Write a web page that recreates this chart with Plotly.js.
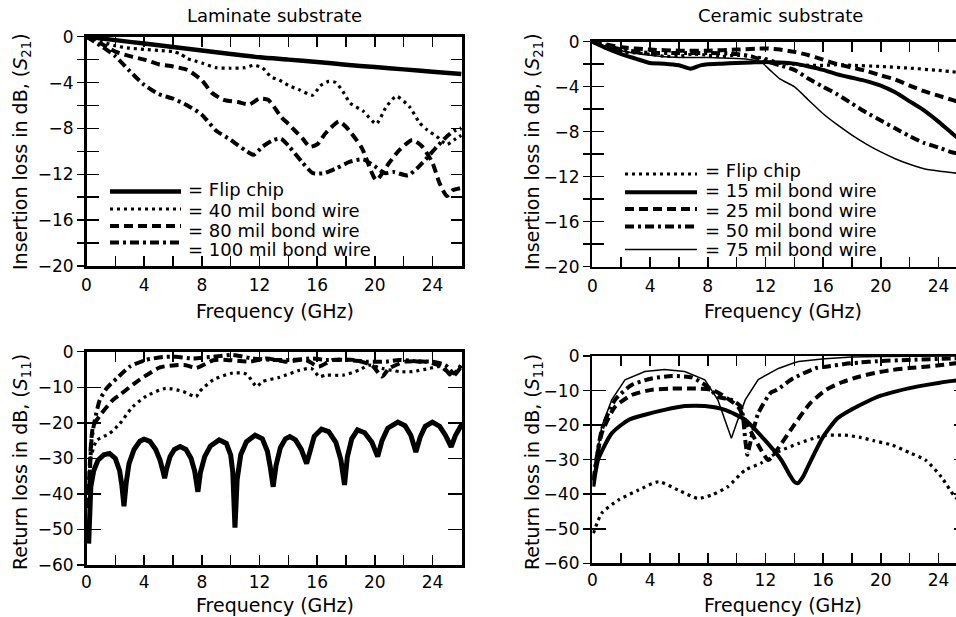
<!DOCTYPE html>
<html>
<head>
<meta charset="utf-8">
<script src="https://cdn.plot.ly/plotly-3.0.1.min.js"></script>
<style>
html, body { margin: 0; padding: 0; overflow: hidden; background: #fff; }
#chart { width: 975px; height: 617px; }
</style>
</head>
<body>
<div id="chart"></div>
<script>
// ---------- Laminate substrate, insertion loss S21 (dB) ----------
const lamFlipX = [0,2,4,6,8,10,12,14,16,18,20,22,24,26];
const lamFlipY = [0,-0.3,-0.6,-0.9,-1.2,-1.5,-1.8,-2.0,-2.2,-2.45,-2.65,-2.85,-3.05,-3.25];
const lam40X = [0,1,2,3,4,5,6,6.5,7,7.5,8,9,10,11,11.6,12.2,12.8,13.4,14.1,14.8,15.7,16.2,16.8,17.3,17.8,18.3,19.2,20.1,20.8,21.5,22.4,23.1,23.6,24.3,25.0,25.5,26];
const lam40Y = [0,-0.4,-0.8,-1.0,-1.1,-1.2,-1.3,-1.5,-1.9,-2.1,-2.3,-2.7,-2.75,-2.7,-2.5,-2.7,-3.5,-3.8,-4.3,-4.65,-5.1,-4.3,-3.9,-4.0,-4.8,-5.8,-6.5,-7.6,-6.1,-5.2,-6.1,-7.5,-8.1,-8.7,-9.4,-9.0,-8.6];
const lam80X = [0,1,2,3,4,5,6,7,8,8.7,9.5,10.5,11.3,12,12.6,13,13.5,14,15,15.5,16,16.6,17.5,18.0,19.1,20.1,21.0,21.7,22.6,23.3,24.0,24.5,25.0,25.4,26];
const lam80Y = [0,-0.6,-1.3,-1.7,-2.0,-2.4,-2.6,-2.9,-3.8,-4.9,-5.5,-5.7,-5.9,-5.4,-5.5,-6.1,-7.0,-7.6,-8.9,-9.6,-9.4,-8.4,-7.4,-7.85,-9.7,-12.5,-11.0,-9.9,-9.0,-9.6,-11.0,-12.8,-13.9,-13.4,-13.2];
const lam100X = [0,1,2,3,4,5,6,7,8,9,10,11,11.6,12.2,13,13.5,14,15,15.7,16.5,17.3,18.3,19.2,20,20.7,21.3,22.3,23,23.6,24.3,25,25.5,26];
const lam100Y = [0,-0.8,-1.7,-3.0,-4.2,-5.0,-5.4,-6.0,-6.8,-8.2,-9.0,-9.9,-10.3,-9.6,-9.0,-8.9,-9.5,-11.0,-11.9,-11.9,-11.5,-10.9,-10.7,-11.3,-11.9,-11.8,-12.1,-11.4,-10.6,-9.6,-8.7,-8.2,-8.0];

// ---------- Ceramic substrate, insertion loss S21 (dB) ----------
const cerFlipX = [0,1,2,3,4,5,6,7,8,9,10,11,12,13,14,15,16,17,18,20,22,24,26];
const cerFlipY = [0,-0.5,-0.9,-1.0,-1.1,-1.3,-1.3,-1.1,-1.2,-1.3,-1.2,-1.3,-1.5,-1.9,-2.0,-2.1,-2.1,-2.05,-2.1,-2.2,-2.35,-2.55,-2.8];
const cer15X = [0,1,2,3,4,5,6,6.8,7.5,8,9,10,11,12,13,14,15,16,17,18,19,20,21,22,23,24,25,26];
const cer15Y = [0,-0.6,-1.1,-1.5,-1.9,-1.95,-2.1,-2.4,-2.1,-2.0,-1.95,-1.9,-1.85,-1.8,-1.85,-1.95,-2.2,-2.5,-2.9,-3.2,-3.5,-3.9,-4.5,-5.3,-6.1,-7.1,-8.2,-9.2];
const cer25X = [0,2,4,6,8,10,12,13,14,15,16,17,18,19,20,21,22,23,24,25,26];
const cer25Y = [0,-0.5,-0.7,-0.8,-0.8,-0.7,-0.6,-0.7,-0.9,-1.2,-1.6,-2.0,-2.3,-2.6,-3.0,-3.35,-3.9,-4.4,-4.8,-5.2,-5.6];
const cer50X = [0,2,4,6,8,10,11,12,13,14,15,16,17,18,19,20,21,22,23,24,25,26];
const cer50Y = [0,-0.7,-1.0,-1.0,-1.0,-1.1,-1.3,-1.7,-2.1,-2.5,-3.3,-4.0,-4.7,-5.5,-6.3,-7.0,-7.7,-8.4,-9.0,-9.4,-9.85,-10.1];
const cer75X = [0,2,4,6,8,10,11,11.7,12.3,13,14,15,16,17,18,19,20,21,22,23,24,25,26];
const cer75Y = [0,-0.8,-1.2,-1.4,-1.4,-1.5,-1.6,-1.8,-2.5,-3.3,-4.0,-5.2,-6.4,-7.4,-8.3,-9.1,-9.8,-10.4,-10.9,-11.3,-11.5,-11.65,-11.8];

// ---------- Laminate substrate, return loss S11 (dB) ----------
const lamS11FlipX = [0.15,0.2,0.3,0.5,0.8,1.2,1.6,2.0,2.3,2.45,2.6,2.75,2.95,3.3,3.7,4.0,4.4,4.8,5.1,5.3,5.42,5.55,5.8,6.1,6.5,6.9,7.25,7.5,7.73,7.9,8.2,8.6,9.2,9.7,10.0,10.15,10.3,10.45,10.7,11.1,11.7,12.2,12.55,12.75,12.95,13.15,13.45,13.8,14.1,14.5,14.9,15.27,15.5,15.8,16.3,16.8,17.3,17.65,17.9,18.1,18.4,18.8,19.3,19.8,20.2,20.5,20.9,21.6,22.1,22.5,22.85,23.15,23.5,24.0,24.5,24.9,25.3,25.6,26.05];
const lamS11FlipY = [-54,-44,-38,-33.5,-30.5,-29,-28.6,-30,-33.5,-37.5,-43.5,-37,-31.5,-27.5,-25.2,-24.6,-25.2,-27.5,-30.5,-33.5,-35.6,-33,-29.5,-27.5,-26.7,-27.5,-30,-33.5,-39.4,-34,-29.5,-26.5,-24.8,-25.8,-29,-34,-49.5,-36,-29,-25.3,-23.5,-24.5,-28,-32.5,-38,-32,-27,-24.5,-23.9,-24.8,-27.5,-31.5,-27.5,-23.8,-21.8,-22.5,-25.5,-30.5,-37.5,-29.5,-24.5,-22.0,-22.8,-25.5,-29.5,-25,-21.5,-19.8,-20.8,-23.5,-28.2,-24,-21,-19.8,-21,-23.5,-26.8,-23.5,-20.3];
const lamS1140X = [0.1,0.3,0.7,1.6,2.3,3.2,4.15,5.5,6.7,7.6,7.85,8.8,10.15,11.1,11.8,12.2,13.4,14.8,15.6,16.15,16.6,17.8,18.9,19.6,20.5,21.7,22.6,23.8,24.5,25.4,26.05];
const lamS1140Y = [-42,-30,-25,-23,-20.3,-15.5,-12.5,-10.3,-11.2,-12.7,-11.2,-7.9,-6.0,-6.3,-9.8,-8.4,-7.2,-5.2,-4.7,-7.0,-6.6,-6.6,-5.2,-3.8,-4.7,-5.6,-5.6,-4.7,-4.2,-6.6,-3.8];
const lamS1180X = [0.15,0.46,0.96,1.85,2.3,3.5,5.1,6.2,6.9,7.6,8.8,9.7,11.3,12.5,13.8,15.2,16.1,17.1,18.5,19.8,20.5,21.0,22.1,23.5,24.7,25.4,26.05];
const lamS1180Y = [-40,-21,-17.8,-13.5,-12.2,-8.4,-4.4,-3.8,-3.8,-4.6,-2.4,-2.3,-2.8,-1.9,-2.8,-2.3,-4.2,-2.3,-2.3,-3.8,-7.0,-4.7,-2.8,-2.8,-4.2,-7.0,-3.8];
const lamS11100X = [0.15,0.35,0.58,0.92,1.4,2.1,3.0,4.15,5.3,6.2,7.4,8.8,10.15,11.5,12.9,14.3,15.7,16.6,18.0,19.4,20.8,21.7,23.1,24.0,24.9,25.5,26.05];
const lamS11100Y = [-44,-24.8,-19.2,-13.6,-10.3,-7.5,-4.2,-2.3,-1.5,-1.4,-1.9,-1.4,-0.9,-1.9,-2.3,-2.3,-1.9,-2.3,-2.3,-2.8,-2.8,-2.3,-2.8,-2.8,-3.8,-6.1,-3.3];

// ---------- Ceramic substrate, return loss S11 (dB) ----------
const cerS11FlipX = [0.07,0.65,1.8,3.2,4.6,5.95,7.3,8.3,9.4,10.6,11.7,12.9,14.3,15.6,16.2,17.5,18.5,19.5,20.8,22.0,23.1,24.2,25.1,26.05];
const cerS11FlipY = [-51.3,-45.5,-41.7,-38.8,-36.4,-38.8,-41.2,-40.2,-37.8,-33,-31,-27.7,-25.3,-23.5,-23,-22.9,-23.5,-24.5,-25.8,-28,-30.1,-35,-40.5,-44];
const cerS1115X = [0.07,0.4,1.34,2.5,3.64,5.0,6.4,7.8,9.2,10.6,11.95,13.1,13.7,14.0,14.25,14.6,14.95,16.0,17.0,18.0,19.0,20.0,21.0,22.0,23.0,24.0,25.0,26.05];
const cerS1115Y = [-37.8,-30,-22.4,-18.5,-17,-15.6,-14.5,-14.5,-15.6,-18.5,-24.3,-30.1,-34.5,-36.4,-36.8,-35,-32,-23.4,-18,-15.4,-13.3,-11.5,-10.3,-9.3,-8.5,-7.8,-7.2,-6.8];
const cerS1125X = [0.07,0.65,1.57,2.72,4.1,5.5,6.9,8.3,9.2,10.1,10.8,11.7,12.2,12.8,13.9,15.1,16.2,17.3,18.5,19.6,20.8,22.0,23.1,24.2,25.2,26.05];
const cerS1125Y = [-36,-22.4,-14.7,-11.3,-9.8,-9.4,-9.4,-9.8,-11.8,-14.7,-20.4,-27.2,-30.1,-27.2,-20.5,-13.7,-9.8,-7.6,-6.0,-4.9,-4.05,-3.5,-3.1,-2.6,-2.1,-1.8];
const cerS1150X = [0.07,0.65,1.57,2.72,4.1,5.5,6.9,8.0,8.7,9.64,10.3,10.6,10.75,10.9,11.5,12.4,12.8,13.9,15.6,16.2,17.5,18.5,19.8,22.1,25.1,26.05];
const cerS1150Y = [-36,-21.4,-12.7,-8.4,-6.5,-5.8,-6.2,-8.9,-11.8,-12.7,-14.7,-24.3,-28.6,-26,-16.6,-10.5,-9.8,-6.5,-3.4,-3.1,-2.3,-1.9,-1.5,-1.1,-0.7,-0.6];
const cerS1175X = [0.07,0.65,1.34,2.26,3.64,5.0,6.4,7.8,8.7,9.3,9.64,10.0,10.6,11.5,12.9,13.9,14.3,16.1,18.0,19.8,22.0,26.05];
const cerS1175Y = [-34.9,-20.4,-12.7,-6.9,-4.5,-3.9,-4.5,-6.9,-12.7,-19.5,-23.8,-19.5,-12.7,-6.8,-3.6,-2.1,-1.6,-0.8,-0.3,-0.15,-0.05,0];

// ---------- labels ----------
const panelTitles = ['Laminate substrate', 'Ceramic substrate'];
const xTitle = 'Frequency (GHz)';
const yTitleS21 = 'Insertion loss in dB, (<i>S</i><sub>21</sub>)';
const yTitleS11 = 'Return loss in dB, (<i>S</i><sub>11</sub>)';
const lamLegend = ['= Flip chip', '= 40 mil bond wire', '= 80 mil bond wire', '= 100 mil bond wire'];
const cerLegend = ['= Flip chip', '= 15 mil bond wire', '= 25 mil bond wire', '= 50 mil bond wire', '= 75 mil bond wire'];

// ---------- geometry (pixels) ----------
const W = 975, H = 617;
const px = v => v / W;
const py = v => 1 - v / H;
const FONT = 'DejaVu Sans';

// line styles
const S = {
  thick:   {color: '#000', width: 4.5},
  thickB:  {color: '#000', width: 5},
  solid4:  {color: '#000', width: 4},
  thin:    {color: '#000', width: 1.5},
  dot:     {color: '#000', width: 3.2, dash: '3px,4px'},
  dash:    {color: '#000', width: 4, dash: '9px,5px'},
  dashdot: {color: '#000', width: 4, dash: '9px,4px,3px,4px'}
};

function tr(x, y, xa, ya, line, shape) {
  return {x: x, y: y, xaxis: xa, yaxis: ya, type: 'scatter', mode: 'lines',
    line: Object.assign({}, line, {shape: shape || 'spline', smoothing: 0.6}),
    showlegend: false, hoverinfo: 'skip'};
}

const data = [
  tr(lamFlipX, lamFlipY, 'x', 'y', S.thick),
  tr(lam40X, lam40Y, 'x', 'y', S.dot),
  tr(lam80X, lam80Y, 'x', 'y', S.dash),
  tr(lam100X, lam100Y, 'x', 'y', S.dashdot),

  tr(cerFlipX, cerFlipY, 'x2', 'y2', S.dot),
  tr(cer15X, cer15Y, 'x2', 'y2', S.solid4),
  tr(cer25X, cer25Y, 'x2', 'y2', S.dash),
  tr(cer50X, cer50Y, 'x2', 'y2', S.dashdot),
  tr(cer75X, cer75Y, 'x2', 'y2', S.thin),

  tr(lamS11FlipX, lamS11FlipY, 'x3', 'y3', S.thickB, 'linear'),
  tr(lamS1140X, lamS1140Y, 'x3', 'y3', S.dot),
  tr(lamS1180X, lamS1180Y, 'x3', 'y3', S.dash),
  tr(lamS11100X, lamS11100Y, 'x3', 'y3', S.dashdot),

  tr(cerS11FlipX, cerS11FlipY, 'x4', 'y4', S.dot),
  tr(cerS1115X, cerS1115Y, 'x4', 'y4', S.solid4),
  tr(cerS1125X, cerS1125Y, 'x4', 'y4', S.dash),
  tr(cerS1150X, cerS1150Y, 'x4', 'y4', S.dashdot),
  tr(cerS1175X, cerS1175Y, 'x4', 'y4', S.thin, 'linear')
];
// empty traces so the overlay tick axes are drawn
for (let k = 5; k <= 12; k++) {
  const base = ((k - 5) % 4) + 1;
  data.push({x: [null], y: [null], xaxis: base === 1 ? 'x' : 'x' + base, yaxis: 'y' + k,
    type: 'scatter', mode: 'lines', showlegend: false, hoverinfo: 'skip'});
}

const XR = [0, 26.05];
const tickFont = {family: FONT, size: 17, color: '#000'};

function xAxis(domain, anchor, standoff) {
  return {domain: domain, anchor: anchor, range: XR, dtick: 4, tick0: 0,
    ticks: 'inside', ticklen: 10, tickwidth: 1.5, tickcolor: '#000',
    minor: {dtick: 2, tick0: 0, ticks: 'inside', ticklen: 10, tickwidth: 1.5, tickcolor: '#000', showgrid: false},
    mirror: 'allticks', showline: true, linewidth: 2.5, linecolor: '#000',
    showgrid: false, zeroline: false, tickfont: tickFont, ticklabelstandoff: standoff, fixedrange: true};
}
function yAxis(domain, anchor, range, dtick, minor) {
  const a = {domain: domain, anchor: anchor, range: range, dtick: dtick, tick0: 0,
    ticks: 'outside', ticklen: 7, tickwidth: 1.5, tickcolor: '#000',
    mirror: true, showline: true, linewidth: 2.5, linecolor: '#000',
    showgrid: false, zeroline: false, tickfont: tickFont, fixedrange: true};
  if (minor) a.minor = {dtick: minor, tick0: 0, ticks: 'outside', ticklen: 7, tickwidth: 1.5, tickcolor: '#000', showgrid: false};
  return a;
}
function yOver(base, anchor, range, dtick, side, len) {
  return {overlaying: base, anchor: anchor, side: side, range: range, dtick: dtick, tick0: 0,
    ticks: 'inside', ticklen: len, tickwidth: 1.5, tickcolor: '#000',
    showticklabels: false, showline: false, showgrid: false, zeroline: false, fixedrange: true};
}

const xL = [px(86.5), px(462)], xR = [px(592.4), px(968)];
const yTL = [py(266), py(36.7)], yTR = [py(266.7), py(41.7)];
const yBL = [py(565), py(351.7)], yBR = [py(563.3), py(356)];
const R21 = [-20, 0], R11 = [-60, 0];

const layout = {
  width: W, height: H, margin: {l: 0, r: 0, t: 0, b: 0},
  paper_bgcolor: '#fff', plot_bgcolor: '#fff', showlegend: false,
  font: {family: FONT, color: '#000'},
  xaxis: xAxis(xL, 'y', 2), yaxis: yAxis(yTL, 'x', R21, 4, 2),
  xaxis2: xAxis(xR, 'y2', 2), yaxis2: yAxis(yTR, 'x2', R21, 4, 2),
  xaxis3: xAxis(xL, 'y3', 0), yaxis3: yAxis(yBL, 'x3', R11, 10),
  xaxis4: xAxis(xR, 'y4', 0), yaxis4: yAxis(yBR, 'x4', R11, 10),
  yaxis5: yOver('y', 'x', R21, 2, 'right', 11),
  yaxis6: yOver('y2', 'x2', R21, 2, 'right', 11),
  yaxis7: yOver('y3', 'x3', R11, 10, 'right', 14),
  yaxis8: yOver('y4', 'x4', R11, 10, 'right', 14),
  yaxis9: yOver('y', 'x', R21, 2, 'left', 12),
  yaxis10: yOver('y2', 'x2', R21, 2, 'left', 12),
  yaxis11: yOver('y3', 'x3', R11, 10, 'left', 14),
  yaxis12: yOver('y4', 'x4', R11, 10, 'left', 14),
  shapes: [],
  annotations: []
};

function ann(text, x, y, opts) {
  layout.annotations.push(Object.assign({text: text, x: px(x), y: py(y), xref: 'paper', yref: 'paper',
    showarrow: false, xanchor: 'center', yanchor: 'middle',
    font: {family: FONT, size: 19, color: '#000'}}, opts || {}));
}
// titles
ann(panelTitles[0], 274, 15, {font: {family: FONT, size: 18, color: '#000'}});
ann(panelTitles[1], 780, 15, {font: {family: FONT, size: 18, color: '#000'}});
[[275, 311], [783, 311], [275, 605], [783, 605]].forEach(p => ann(xTitle, p[0], p[1]));
ann(yTitleS21, 21, 152, {textangle: -90});
ann(yTitleS21, 533, 152, {textangle: -90});
ann(yTitleS11, 21, 462, {textangle: -90});
ann(yTitleS11, 533, 462, {textangle: -90});

// legend samples (drawn lines) and labels
const legFont = {family: FONT, size: 18, color: '#000'};
function sample(x0, x1, y, st) {
  layout.shapes.push({type: 'line', xref: 'paper', yref: 'paper', x0: px(x0), x1: px(x1), y0: py(y), y1: py(y),
    line: {color: st.color, width: st.width, dash: st.dash || 'solid'}});
}
const lamStyles = [S.thick, S.dot, S.dash, S.dashdot];
const lamLineY = [191.5, 209, 226, 242.5];
const lamTextY = [190, 210, 230, 250];
lamLegend.forEach((t, i) => {
  sample(110, 181, lamLineY[i], lamStyles[i]);
  ann(t, 186, lamTextY[i], {xanchor: 'left', font: legFont});
});
const cerStyles = [S.dot, S.solid4, S.dash, S.dashdot, S.thin];
const cerLineY = [174, 192.3, 209, 226.5, 249.5];
const cerTextY = [170, 190.5, 210, 230, 249];
cerLegend.forEach((t, i) => {
  sample(625, 697, cerLineY[i], cerStyles[i]);
  ann(t, 703, cerTextY[i], {xanchor: 'left', font: legFont});
});

Plotly.newPlot('chart', data, layout, {staticPlot: true, displayModeBar: false});
</script>
</body>
</html>
